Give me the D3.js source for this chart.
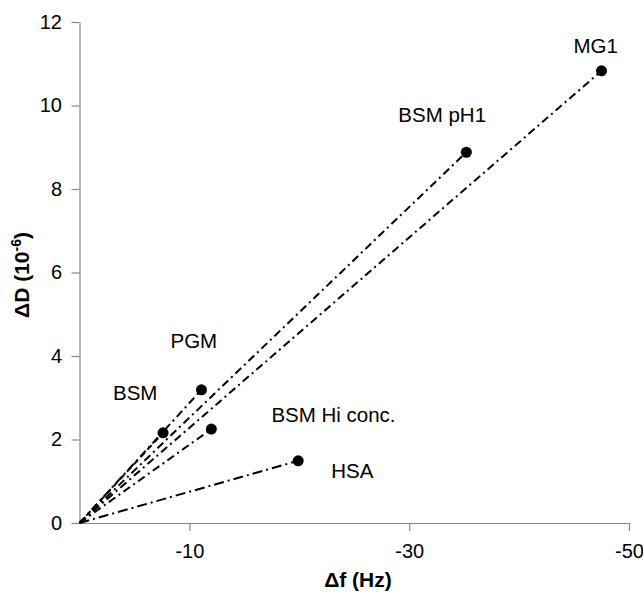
<!doctype html>
<html>
  <head>
    <meta charset="utf-8">
    <script src="https://cdnjs.cloudflare.com/ajax/libs/d3/7.8.5/d3.min.js"></script>
    <style>
      body { margin: 0; background: #fff; }
      svg { font-family: "Liberation Sans", Arial, sans-serif; }
    </style>
  </head>
  <body>
    <svg width="643" height="593"></svg>
    <script>
      // series: each line goes from the origin to its end point
      var samples = ["MG1", "BSM pH1", "PGM", "BSM", "BSM Hi conc.", "HSA"];
      var deltaF = [-47.5, -35.2, -11.1, -7.6, -12.0, -19.9];
      var deltaD = [10.83, 8.88, 3.19, 2.16, 2.25, 1.49];
      var xTicks = [-10, -30, -50];
      var yTicks = [0, 2, 4, 6, 8, 10, 12];

      // label offsets from each end point (px)
      var labelOffset = {
        "MG1": [-28, -18],
        "BSM pH1": [-68, -30],
        "PGM": [-31, -42],
        "BSM": [-50, -33],
        "BSM Hi conc.": [60, -7],
        "HSA": [33, 17]
      };
      var dashes = {
        "MG1": "8,4,2,4",
        "BSM pH1": "8,4,2,4",
        "PGM": "8,4,2,4",
        "BSM": "6,4",
        "BSM Hi conc.": "8,4,2,4",
        "HSA": "10,4,2,4"
      };

      var svg = d3.select("svg");

      var x = d3.scaleLinear().domain([0, -50]).range([79.5, 629]);
      var y = d3.scaleLinear().domain([0, 12]).range([523, 22]);

      var data = samples.map((s, i) => ({name: s, f: deltaF[i], d: deltaD[i]}));

      var xAxis = svg.append("g")
        .attr("transform", "translate(0," + y(0) + ")")
        .call(d3.axisBottom(x).tickValues(xTicks).tickSize(8).tickSizeOuter(0).tickPadding(12.5)
          .tickFormat(d => String(d)));

      var yAxis = svg.append("g")
        .attr("transform", "translate(" + x(0) + ",0)")
        .call(d3.axisLeft(y).tickValues(yTicks).tickSize(8).tickSizeOuter(0).tickPadding(9.5));

      [xAxis, yAxis].forEach(a => {
        a.select(".domain").attr("stroke", "#868686").attr("stroke-width", 1.2);
        a.selectAll(".tick line").attr("stroke", "#868686").attr("stroke-width", 1.2);
        a.selectAll(".tick text").attr("fill", "#000").attr("font-size", "20px")
          .attr("font-family", "Liberation Sans, Arial, sans-serif");
      });

      svg.selectAll("line.series")
        .data(data)
        .enter()
        .append("line")
        .attr("class", "series")
        .attr("x1", x(0))
        .attr("y1", y(0))
        .attr("x2", d => x(d.f))
        .attr("y2", d => y(d.d))
        .attr("stroke", "#000")
        .attr("stroke-width", 2)
        .attr("stroke-dasharray", d => dashes[d.name]);

      svg.selectAll("circle")
        .data(data)
        .enter()
        .append("circle")
        .attr("cx", d => x(d.f))
        .attr("cy", d => y(d.d))
        .attr("r", 5.5)
        .attr("fill", "#000");

      svg.selectAll("text.lbl")
        .data(data)
        .enter()
        .append("text")
        .attr("class", "lbl")
        .attr("x", d => x(d.f) + labelOffset[d.name][0])
        .attr("y", d => y(d.d) + labelOffset[d.name][1])
        .attr("font-size", "20.5px")
        .text(d => d.name);

      svg.append("text")
        .attr("x", 358)
        .attr("y", 587)
        .attr("text-anchor", "middle")
        .attr("font-size", "21px")
        .attr("font-weight", "bold")
        .text("\u0394f (Hz)");

      var yt = svg.append("text")
        .attr("transform", "translate(29,275) rotate(-90)")
        .attr("text-anchor", "middle")
        .attr("font-size", "21px")
        .attr("font-weight", "bold");
      yt.append("tspan").text("\u0394D (10");
      yt.append("tspan").attr("font-size", "14px").attr("dy", "-8").text("-6");
      yt.append("tspan").attr("dy", "8").text(")");
    </script>
  </body>
</html>
